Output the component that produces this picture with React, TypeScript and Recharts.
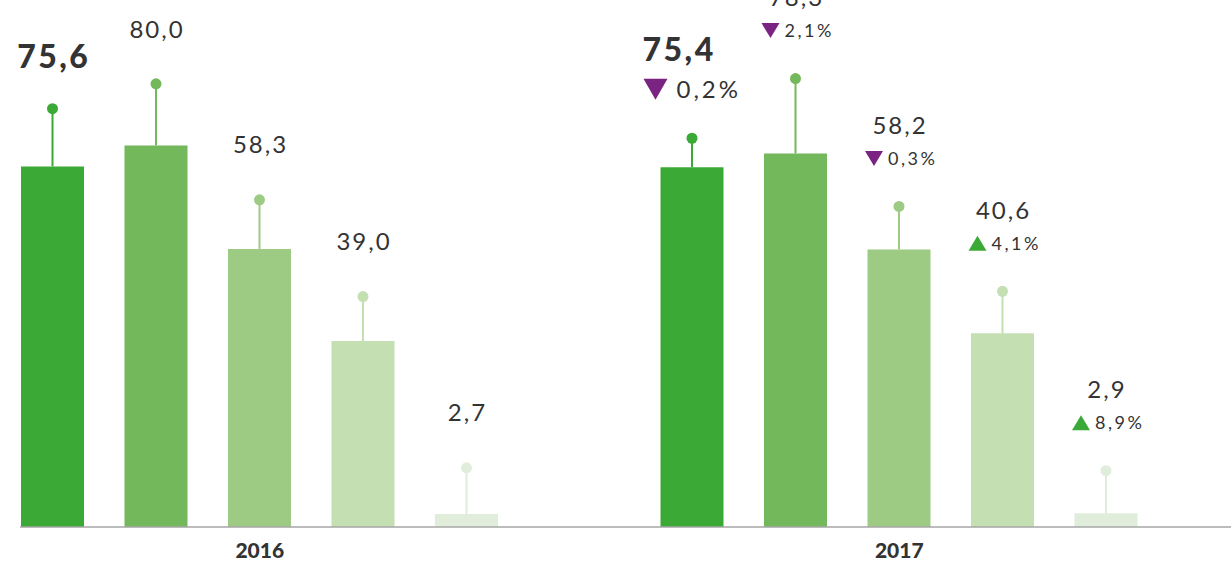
import { Bar, BarChart, XAxis, YAxis } from "recharts"

const years = ["2016", "2017"]
const values2016 = [75.6, 80.0, 58.3, 39.0, 2.7]
const values2017 = [75.4, 78.3, 58.2, 40.6, 2.9]
// top of the lollipop above each bar
const markers2016 = [87.7, 92.9, 68.6, 48.3, 12.4]
const markers2017 = [81.5, 94.0, 67.2, 49.4, 11.8]
const changes2017 = [-0.2, -2.1, -0.3, 4.1, 8.9]
const colors = ["#3ba935", "#73b85b", "#9ecb84", "#c4dfb2", "#e1eddb"]

const FONT = "Lato, 'Open Sans', sans-serif"
const TEXT = "#333333"

const rows = [
  { year: years[0], values: values2016, markers: markers2016, changes: null as number[] | null },
  { year: years[1], values: values2017, markers: markers2017, changes: changes2017 },
]

const data = rows.map((r) => {
  const o: any = { year: r.year }
  r.values.forEach((v, i) => {
    o["v" + i] = v
    o["d" + i] = +(r.markers[i] - v).toFixed(1)
    o["c" + i] = r.changes ? r.changes[i] : null
  })
  return o
})

const fmt = (n: number) => n.toFixed(1).replace(".", ",")

function Stem(props: any) {
  const { x, y, width, height, payload, idx } = props
  const cx = x + width / 2
  const barTop = y + height
  const color = colors[idx]
  const value = payload["v" + idx]
  const change = payload["c" + idx]
  const big = idx === 0
  const vfs = big ? 32 : 24
  const vls = big ? 2.5 : 2

  let labels = null
  if (change == null) {
    const cy = y - (big ? 52 : 55)
    labels = (
      <text
        x={cx + vls / 2}
        y={cy + vfs * 0.36}
        textAnchor="middle"
        fontSize={vfs}
        fontWeight={big ? 900 : 400}
        fill={TEXT}
        fontFamily={FONT}
        letterSpacing={vls}
      >
        {fmt(value)}
      </text>
    )
  } else {
    const changeCy = y - (big ? 49 : 48)
    const valueCy = changeCy - (big ? 40 : 33)
    const cfs = big ? 24 : 18
    const tw = big ? 24 : 18
    const th = big ? 21 : 15
    const tl = cx - (big ? 48.5 : 34)
    const up = change > 0
    const pts = up
      ? `${tl},${changeCy + th / 2} ${tl + tw},${changeCy + th / 2} ${tl + tw / 2},${changeCy - th / 2}`
      : `${tl},${changeCy - th / 2} ${tl + tw},${changeCy - th / 2} ${tl + tw / 2},${changeCy + th / 2}`
    labels = (
      <g>
        <text
          x={big ? cx - 49.5 : cx + vls / 2}
          y={valueCy + vfs * 0.36}
          textAnchor={big ? "start" : "middle"}
          fontSize={vfs}
          fontWeight={big ? 900 : 400}
          fill={TEXT}
          fontFamily={FONT}
          letterSpacing={vls}
        >
          {fmt(value)}
        </text>
        <polygon points={pts} fill={up ? "#3ba935" : "#7a2383"} />
        <text
          x={cx - (big ? 15.5 : 11)}
          y={changeCy + cfs * 0.36}
          fontSize={cfs}
          fill={TEXT}
          fontFamily={FONT}
          letterSpacing={big ? 3 : 2.5}
        >
          {fmt(Math.abs(change)) + "%"}
        </text>
      </g>
    )
  }

  return (
    <g>
      <line x1={cx} x2={cx} y1={barTop} y2={y} stroke={color} strokeWidth={2} />
      <circle cx={cx} cy={y} r={5.5} fill={color} />
      {labels}
    </g>
  )
}

export default function App() {
  return (
    <div style={{ position: "absolute", left: 0, top: 0, width: 1231, height: 561, overflow: "hidden", background: "#fff" }}>
      <BarChart
        width={1231}
        height={561}
        data={data}
        margin={{ top: 50, right: 0, bottom: 0, left: 20 }}
        barSize={63}
        barGap={40.5}
      >
        <XAxis
          dataKey="year"
          height={34}
          padding={{ left: -80, right: 12 }}
          tickLine={false}
          tickMargin={10}
          axisLine={{ stroke: "#a6a6a6", strokeWidth: 1.5 }}
          tick={{ fill: TEXT, fontSize: 21, fontWeight: 900, fontFamily: FONT }}
        />
        <YAxis hide domain={[0, 100]} />
        {colors.map((c, i) => [
          <Bar key={"v" + i} dataKey={"v" + i} stackId={"s" + i} fill={c} isAnimationActive={false} />,
          <Bar
            key={"d" + i}
            dataKey={"d" + i}
            stackId={"s" + i}
            fill="none"
            isAnimationActive={false}
            shape={(p: any) => <Stem {...p} idx={i} />}
          />,
        ])}
      </BarChart>
    </div>
  )
}
